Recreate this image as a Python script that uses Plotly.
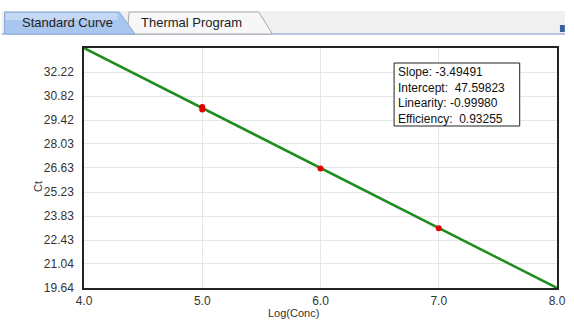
import plotly.graph_objects as go

# Standard curve data
log_conc = [5.0, 5.0, 6.0, 7.0]
ct_values = [30.18, 30.03, 26.60, 23.12]
slope = -3.49491
intercept = 47.59823
linearity = -0.99980
efficiency = 0.93255
x_range = [4.0, 8.0]
y_ticks = [19.64, 21.04, 22.43, 23.83, 25.23, 26.63, 28.03, 29.42, 30.82, 32.22]
x_ticks = [4.0, 5.0, 6.0, 7.0, 8.0]
tab_labels = ["Standard Curve", "Thermal Program"]
x_title = "Log(Conc)"
y_title = "Ct"

W, H = 574, 320
ML, MR, MT, MB = 84, 8, 48, 32
PW, PH = W - ML - MR, H - MT - MB


def px(x):
    return (x - ML) / PW


def py(y):
    return (H - MB - y) / PH


fit_x = x_range
fit_y = [slope * v + intercept for v in fit_x]
y_top = fit_y[0]
y_bottom = fit_y[1]

fig = go.Figure()
fig.add_trace(go.Scatter(x=fit_x, y=fit_y, mode="lines",
                         line=dict(color="#1e8c1e", width=2.5),
                         hoverinfo="skip", showlegend=False))
fig.add_trace(go.Scatter(x=log_conc, y=ct_values, mode="markers",
                         marker=dict(color="#e00000", size=6),
                         showlegend=False))

shapes = []
# tab strip background and underline
shapes.append(dict(type="rect", xref="paper", yref="paper",
                   x0=px(0), x1=px(574), y0=py(34), y1=py(11),
                   fillcolor="#f0f0f0", line=dict(width=0), layer="below"))
shapes.append(dict(type="line", xref="paper", yref="paper",
                   x0=px(0), x1=px(574), y0=py(34), y1=py(34),
                   line=dict(color="#9fb6d6", width=1.5)))
# second tab
shapes.append(dict(type="path", xref="paper", yref="paper",
                   path=f"M {px(128)},{py(34)} L {px(130)},{py(12)} L {px(262)},{py(12)} "
                        f"L {px(276)},{py(34)} Z",
                   fillcolor="#f7f7f7", line=dict(color="#a9a9a9", width=1)))
# active tab
shapes.append(dict(type="path", xref="paper", yref="paper",
                   path=f"M {px(3)},{py(34)} L {px(3)},{py(12)} L {px(120)},{py(12)} "
                        f"L {px(136)},{py(34)} Z",
                   fillcolor="#a9c6ee", line=dict(color="#8aaad6", width=1)))
shapes.append(dict(type="rect", xref="paper", yref="paper",
                   x0=px(4), x1=px(118), y0=py(20), y1=py(13),
                   fillcolor="#c4d8f4", line=dict(width=0)))
# small icon at right end of strip
shapes.append(dict(type="rect", xref="paper", yref="paper",
                   x0=px(569), x1=px(574), y0=py(32), y1=py(25),
                   fillcolor="#3a5fa0", line=dict(width=0)))
# statistics box
shapes.append(dict(type="rect", xref="paper", yref="paper",
                   x0=px(400), x1=px(528), y0=py(126), y1=py(63),
                   fillcolor="white", line=dict(color="#222222", width=1)))

font_family = "Liberation Sans, Arial"
annotations = [
    dict(text=tab_labels[0], x=px(19), y=py(23), xref="paper", yref="paper",
         xanchor="left", yanchor="middle", showarrow=False,
         font=dict(family=font_family, size=13, color="#222222")),
    dict(text=tab_labels[1], x=px(140), y=py(23), xref="paper", yref="paper",
         xanchor="left", yanchor="middle", showarrow=False,
         font=dict(family=font_family, size=13, color="#222222")),
    dict(text=(f"Slope: {slope:.5f}<br>Intercept:  {intercept:.5f}<br>"
               f"Linearity: {linearity:.5f}<br>Efficiency:  {efficiency:.5f}"),
         x=px(402), y=py(63), xref="paper", yref="paper",
         xanchor="left", yanchor="top", align="left", showarrow=False,
         font=dict(family=font_family, size=12, color="#111111")),
    # axis titles
    dict(text=x_title, x=px(297), y=py(320), xref="paper", yref="paper",
         xanchor="center", yanchor="bottom", showarrow=False,
         borderpad=0, font=dict(family=font_family, size=11, color="#333333")),
    dict(text=y_title, x=px(37), y=py(186), xref="paper", yref="paper",
         xanchor="center", yanchor="middle", showarrow=False, textangle=-90,
         font=dict(family=font_family, size=11, color="#333333")),
]

fig.update_layout(
    width=W, height=H,
    margin=dict(l=ML, r=MR, t=MT, b=MB),
    paper_bgcolor="white", plot_bgcolor="white",
    shapes=shapes, annotations=annotations,
    font=dict(family=font_family, size=12, color="#333333"),
    xaxis=dict(range=x_range, tickvals=x_ticks,
               ticktext=[f"{v:.1f}" for v in x_ticks],
               showgrid=True, gridcolor="#e6e6e6", zeroline=False,
               showline=True, linecolor="#222222", linewidth=1.5, mirror=True,
               ticks="", ticklabelstandoff=1),
    yaxis=dict(range=[y_bottom, y_top], tickvals=y_ticks,
               ticktext=[f"{v:.2f}" for v in y_ticks],
               showgrid=True, gridcolor="#e6e6e6", zeroline=False,
               showline=True, linecolor="#222222", linewidth=1.5, mirror=True,
               ticks="", ticklabelstandoff=6),
)

fig.write_html("out.html")
